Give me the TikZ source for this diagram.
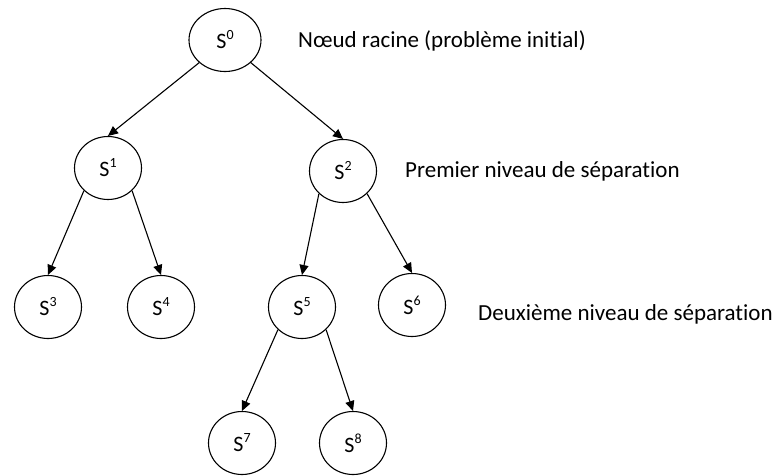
\documentclass[tikz,border=0pt]{standalone}
\usepackage{fontspec}
\setmainfont{Carlito}[Ligatures=NoCommon]
\usetikzlibrary{shapes.geometric,arrows.meta}
\newcommand{\sname}[1]{S\raisebox{9pt}{\fontsize{14}{14}\selectfont #1}\hspace{8pt}}
\begin{document}
\begin{tikzpicture}[x=1pt,y=-1pt,
  state/.style={ellipse,draw,line width=1.1pt,minimum width=67pt,minimum height=63pt,inner sep=0pt,
    font=\fontsize{22}{22}\selectfont},
  edge/.style={line width=1.1pt,-{Triangle[length=10pt,width=9pt]}},
  caption/.style={anchor=base west,inner sep=0pt,font=\fontsize{23}{23}\selectfont}]
  \useasboundingbox (0,0) rectangle (776,475);

  % tree nodes
  \node[state,minimum width=72pt] (s0) at (225,40)  {\sname{0}};
  \node[state] (s1) at (108,168) {\sname{1}};
  \node[state] (s2) at (343,171) {\sname{2}};
  \node[state] (s3) at (48,307)  {\sname{3}};
  \node[state] (s4) at (161,307) {\sname{4}};
  \node[state] (s5) at (302,307) {\sname{5}};
  \node[state] (s6) at (412,305) {\sname{6}};
  \node[state] (s7) at (242,443) {\sname{7}};
  \node[state] (s8) at (353,443) {\sname{8}};

  % branches
  \draw[edge] (s0.south west) -- (s1.north);
  \draw[edge] (s0.south east) -- (s2.north);
  \draw[edge] (s1.south west) -- (s3.north);
  \draw[edge] (s1.south east) -- (s4.north);
  \draw[edge] (s2.south west) -- (s5.north);
  \draw[edge] (s2.south east) -- (s6.north);
  \draw[edge] (s5.south west) -- (s7.north);
  \draw[edge] (s5.south east) -- (s8.north);

  % level captions
  \node[caption] (c0) at (298,47)  {Nœud racine (problème initial)};
  \node[caption] (c1) at (405,177) {Premier niveau de séparation};
  \node[caption] (c2) at (478,320) {Deuxième niveau de séparation};
\end{tikzpicture}
\end{document}
